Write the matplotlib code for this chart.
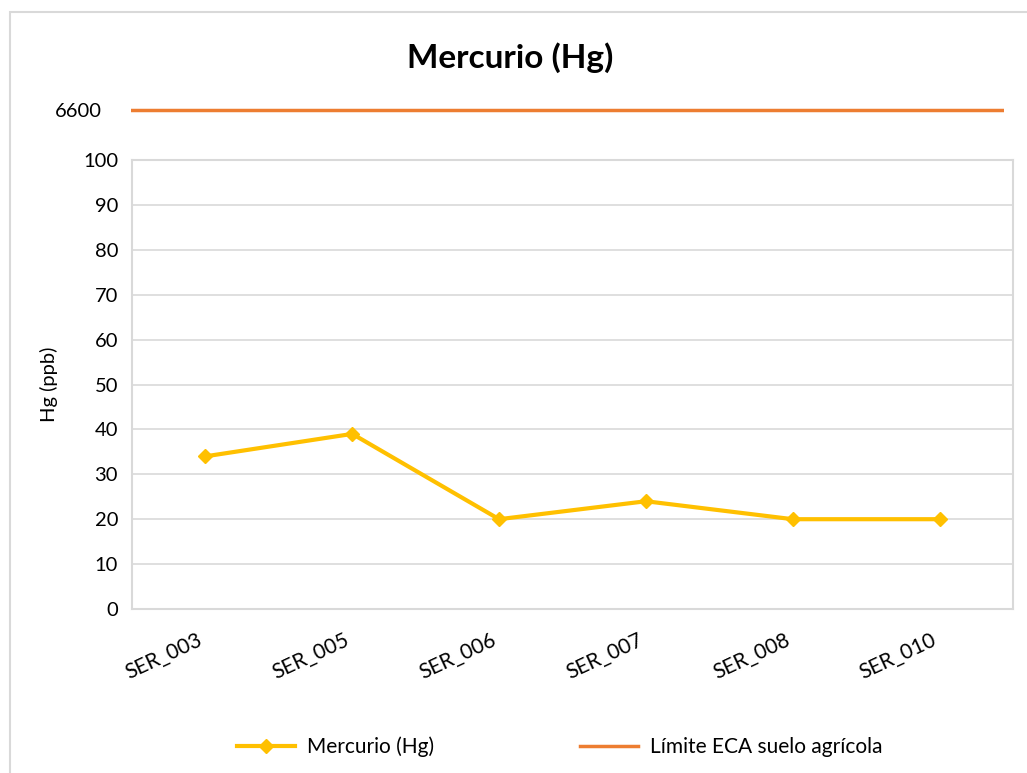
import matplotlib.pyplot as plt
from matplotlib.lines import Line2D
from matplotlib.patches import Rectangle

# sample points and mercury values (ppb)
muestras = ["SER_003", "SER_005", "SER_006", "SER_007", "SER_008", "SER_010"]
mercurio = [34, 39, 20, 24, 20, 20]
limite_eca = 6600
y_ticks = [0, 10, 20, 30, 40, 50, 60, 70, 80, 90, 100]

amarillo = "#FFC000"
naranja = "#ED7D31"
gris = "#D9D9D9"

plt.rcParams["font.family"] = ["Lato", "DejaVu Sans"]

W, H = 1027, 773
fig = plt.figure(figsize=(W / 100, H / 100), dpi=100)

# outer chart border
fig.patches.append(Rectangle((10 / W, -0.01), 1.1, 1 - 12 / H + 0.01, transform=fig.transFigure,
                             fill=False, edgecolor=gris, linewidth=1.5))

# main plot area (pixels: left 132, right 1013, top 160, bottom 609)
ax = fig.add_axes([132 / W, 1 - 609 / H, (1013 - 132) / W, (609 - 160) / H])
x = list(range(len(muestras)))
ax.plot(x, mercurio, color=amarillo, linewidth=3, marker="D", markersize=7,
        label="Mercurio (Hg)")
ax.set_xlim(-0.5, len(muestras) - 0.5)
ax.set_ylim(0, 100)
ax.set_yticks(y_ticks)
ax.set_xticks(x)
ax.set_xticklabels(muestras, rotation=25, ha="right", fontsize=15)
ax.tick_params(axis="y", labelsize=14.5, length=0, pad=10)
ax.tick_params(axis="x", length=0, pad=15)
ax.grid(axis="y", color=gris, linewidth=1.2)
ax.set_axisbelow(True)
for s in ax.spines.values():
    s.set_color(gris)
    s.set_linewidth(1.5)
ax.set_ylabel("Hg (ppb)", fontsize=14.5, labelpad=18)

# upper strip for the ECA limit
ax2 = fig.add_axes([131 / W, 1 - 130 / H, (1004 - 131) / W, 40 / H])
ax2.axhline(limite_eca, color=naranja, linewidth=2.5)
ax2.set_ylim(limite_eca - 20, limite_eca + 20)
ax2.set_yticks([limite_eca])
ax2.set_yticklabels([str(limite_eca)], fontsize=14.5)
ax2.tick_params(axis="y", length=0, pad=21)
ax2.set_xticks([])
for s in ax2.spines.values():
    s.set_visible(False)
ax2.patch.set_alpha(0)

fig.text(510 / W, 1 - 58 / H, "Mercurio (Hg)", ha="center", va="center",
         fontsize=24, fontweight="bold")

handles = [
    Line2D([], [], color=amarillo, linewidth=3, marker="D", markersize=7),
    Line2D([], [], color=naranja, linewidth=2.5),
]
fig.legend(handles, ["Mercurio (Hg)", "Límite ECA suelo agrícola"],
           loc="center", bbox_to_anchor=(560 / W, 1 - 747 / H), ncol=2,
           frameon=False, fontsize=15, handlelength=2.75, handletextpad=0.6,
           columnspacing=7)

fig.savefig("out.png", dpi=100)
